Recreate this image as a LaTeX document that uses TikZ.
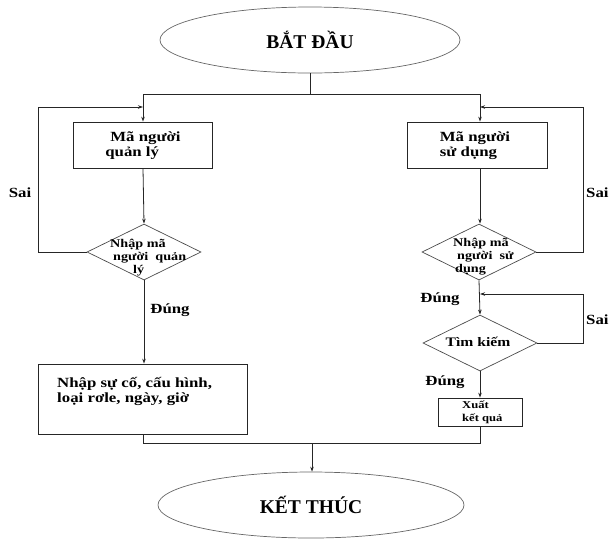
\documentclass[tikz,border=0pt]{standalone}
\usepackage{fontspec}
\setmainfont{Liberation Serif}
\newfontfamily\wf[FakeStretch=1.2]{Liberation Serif}
\usetikzlibrary{shapes.geometric,arrows.meta}
\begin{document}
\begin{tikzpicture}[x=1pt,y=-1pt,
  ln/.style={draw=black!85,line width=0.8pt},
  arr/.style={ln,-{Stealth[length=5pt,width=3.5pt]}},
  term/.style={ellipse,draw=black!60,line width=0.7pt,minimum width=300pt,minimum height=66pt,inner sep=0pt,font=\bfseries\fontsize{19.5}{21}\selectfont},
  boxn/.style={draw=black!85,line width=0.8pt,inner sep=0pt},
  dia/.style={diamond,draw=black!70,line width=0.7pt,inner sep=0pt,minimum width=114pt,minimum height=56pt},
  txt/.style={inner sep=0pt,align=left,font=\wf\bfseries\fontsize{14}{15}\selectfont},
  dtxt/.style={inner sep=0pt,align=left,font=\wf\bfseries\fontsize{11.8}{13}\selectfont},
  lbl/.style={inner sep=0pt,font=\wf\bfseries\fontsize{14}{15}\selectfont}]
\useasboundingbox (0,0) rectangle (609,539);
% terminals
\node[term] (start) at (310,40) {BẮT ĐẦU};
\node[term,minimum width=306pt] (stop) at (311,505) {KẾT THÚC};
% boxes
\node[boxn,minimum width=139pt,minimum height=46pt] (a) at (143,145) {};
\node[txt] (at) at (143,146) {\hspace{5pt}Mã người\\quản lý};
\node[boxn,minimum width=140pt,minimum height=46pt] (b) at (477,145) {};
\node[txt] (bt) at (475,146) {Mã người\\sử dụng};
\node[boxn,minimum width=209pt,minimum height=70pt] (c) at (142.5,399) {};
\node[txt,anchor=west] (ct) at (57,391) {Nhập sự cố, cấu hình,\\loại rơle, ngày, giờ};
\node[boxn,minimum width=84pt,minimum height=28pt] (e) at (480,412) {};
\node[dtxt,anchor=west,font=\wf\bfseries\fontsize{10.5}{13}\selectfont] (et) at (462,412) {Xuất\\kết quả};
% diamonds
\node[dia] (d1) at (144,252) {};
\node[dtxt,anchor=west] (d1t) at (110,258) {Nhập mã\\\hspace{3pt}người\hspace{7pt}quản\\\hspace{23pt}lý};
\node[dia] (d2) at (479,252) {};
\node[dtxt,anchor=west] (d2t) at (453,257) {Nhập mã\\\hspace{4pt}người\ \ sử\\\hspace{2pt}dụng};
\node[dia] (d3) at (480,343) {};
\node[dtxt,font=\wf\bfseries\fontsize{13}{14}\selectfont] (d3t) at (478,342) {Tìm kiếm};
% labels
\node[lbl] (sai1) at (20,193) {Sai};
\node[lbl,anchor=west] (sai2) at (586,193) {Sai};
\node[lbl,anchor=west] (sai3) at (586,320) {Sai};
\node[lbl] (dung1) at (170,310) {Đúng};
\node[lbl] (dung2) at (440,299) {Đúng};
\node[lbl] (dung3) at (445,382) {Đúng};
% coordinates
\coordinate (j) at (310,94);
\coordinate (jl) at (143,94);
\coordinate (jr) at (480,94);
\coordinate (lt) at (38,107);
\coordinate (rt) at (583,107);
\coordinate (rt2) at (583,294);
\coordinate (bl) at (143,443);
\coordinate (br) at (480,443);
\coordinate (bm) at (312,443);
% connectors
\draw[ln] (start.south) -- (j);
\draw[ln] (jl) -- (jr);
\draw[arr] (jl) -- (jl |- a.north);
\draw[arr] (jr) -- (jr |- b.north);
\draw[arr] (a.south -| jl) -- (d1.north);
\draw[arr] (b.south -| jr) -- (jr |- d2.north);
\draw[arr] (d1.west) -| (lt) -- (lt -| jl);
\draw[arr] (d2.east) -| (rt) -- (rt -| jr);
\draw[arr] (d1.south) -- (d1.south |- c.north);
\draw[arr] (d2.south) -- (d3.north);
\draw[arr] (d3.east) -| (rt2) -- (rt2 -| d3.north);
\draw[arr] (d3.south) -- (e.north);
\draw[ln] (c.south -| bl) -- (bl) -- (br) -- (e.south);
\draw[arr] (bm) -- (bm |- stop.north);
\end{tikzpicture}
\end{document}
